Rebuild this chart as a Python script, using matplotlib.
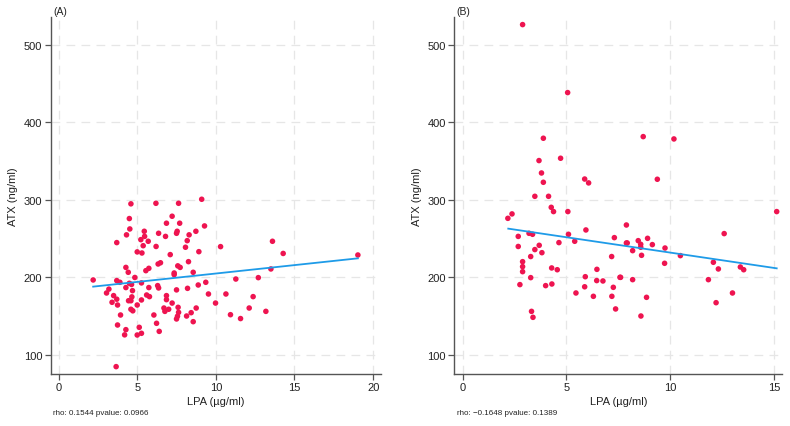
import matplotlib
matplotlib.use("Agg")
import matplotlib.pyplot as plt

plt.rcParams["font.family"] = ["Liberation Sans", "DejaVu Sans"]

# Panel A data
lpa_a = [2.2, 3.05, 3.2, 3.4, 3.5, 3.7, 3.7, 3.7, 3.75, 3.75, 3.66, 3.9, 3.94, 4.28, 4.32, 4.28, 4.28, 4.2,
         4.43, 4.5, 4.53, 4.6, 4.5, 4.45, 4.6, 4.64, 4.66, 4.6, 4.7, 4.72, 4.85, 5.0, 5.0, 5.13, 5.0, 5.27,
         5.23, 5.3, 5.38, 5.45, 5.47, 5.27, 5.27, 5.55, 5.74, 5.7, 5.6, 5.78, 5.74, 6.06, 6.19, 6.2, 6.23,
         6.3, 6.36, 6.36, 6.4, 6.33, 6.48, 6.7, 6.76, 6.8, 6.86, 6.86, 6.86, 7.0, 7.1, 7.22, 7.22, 7.35,
         7.35, 7.5, 7.54, 7.63, 7.7, 7.5, 7.5, 7.56, 7.6, 7.63, 7.58, 7.73, 8.07, 8.18, 8.26, 8.3, 8.2,
         8.14, 8.43, 8.56, 8.56, 8.73, 8.75, 8.88, 8.92, 9.1, 9.28, 9.36, 9.53, 9.98, 10.3, 10.64, 10.93,
         11.27, 11.57, 12.12, 12.37, 12.7, 13.18, 13.5, 13.6, 14.28, 19.03]
atx_a = [196.8, 180, 185, 168, 176.6, 245, 196, 172, 164.5, 138.7, 85, 193.8, 151.6, 213, 255, 187, 132.7, 126,
         206.7, 276, 262.6, 295, 192.5, 170, 159, 191, 175, 170, 183, 157, 200, 233, 164.5, 135.7, 125.8, 128,
         248.8, 231.6, 241, 259.6, 253, 193, 171, 208.8, 211.8, 246.7, 177.4, 175.3, 187, 151.6, 295.7, 240, 140.9,
         189.5, 186.5, 257, 130.5, 217.4, 219, 160.6, 156.3, 253, 270, 176.6, 171.4, 159, 229.5, 167, 279, 203.7,
         205.8, 257, 259.6, 295.7, 270, 184, 146.5, 150, 161.5, 155, 215, 213, 239, 247.5, 220.4, 255, 186,
         150.3, 154.6, 206.7, 143, 259.6, 160.6, 190.3, 233.3, 300.9, 266.5, 193.8, 178.7, 167, 239.8, 178.7, 152,
         198, 147, 160.6, 175.3, 199.8, 156.3, 211, 246.7, 231, 229]
fit_a_x = [2.2, 19.03]
fit_a_y = [188.2, 224.7]

# Panel B data
lpa_b = [2.89, 5.06, 2.18, 2.38, 2.68, 2.68, 2.76, 2.89, 2.89, 2.89, 3.2, 3.37, 3.28, 3.28, 3.32, 3.39, 3.48,
         3.48, 3.68, 3.69, 3.8, 3.89, 3.89, 3.82, 4.0, 4.14, 4.27, 4.38, 4.29, 4.3, 4.56, 4.64, 4.72, 5.07,
         5.1, 5.4, 5.46, 5.88, 6.07, 5.94, 5.91, 5.88, 6.3, 6.46, 6.47, 6.76, 7.19, 7.18, 7.26, 7.31, 7.37,
         7.58, 7.61, 7.89, 7.89, 7.93, 8.19, 8.19, 8.46, 8.58, 8.58, 8.62, 8.59, 8.7, 8.86, 8.91, 9.14, 9.38,
         9.75, 9.73, 10.18, 10.49, 11.84, 12.08, 12.21, 12.32, 12.6, 13.0, 13.38, 13.54, 15.13]
atx_b = [526.2, 438.5, 276.3, 282, 253, 240, 190.8, 220.4, 214, 207.5, 257, 255.7, 227, 199.8, 156.3, 148.6, 304.7,
         236, 350.8, 241.5, 334.8, 379.6, 322.8, 232, 189.5, 304.7, 290.5, 285, 212.3, 191.6, 210, 245, 353.8, 285,
         255.7, 246.7, 180, 327, 322, 261.3, 201, 188, 175.7, 196, 210.5, 195.5, 175.7, 227, 187.3, 251.4, 159.4,
         200.2, 200.2, 267.7, 244.5, 244.5, 234.6, 197.2, 247.5, 242.8, 239, 228.6, 150.3, 381.7, 174.4, 250.5, 242.4, 326.7,
         238, 218.3, 378.7, 228.2, 197.2, 219.6, 167.5, 211, 256.6, 180, 213.5, 210, 285]
fit_b_x = [2.2, 15.13]
fit_b_y = [263.0, 211.8]

panels = ["(A)", "(B)"]
notes = ["rho: 0.1544 pvalue: 0.0966", "rho: \u22120.1648 pvalue: 0.1389"]
xticks_list = [[0, 5, 10, 15, 20], [0, 5, 10, 15]]
yticks = [100, 200, 300, 400, 500]

dot_color = "#EE1450"
line_color = "#1E9BE8"
spine_color = "#555555"
grid_color = "#E6E6E6"

fig = plt.figure(figsize=(7.9, 4.27), dpi=100)
W, H = 790, 427
boxes = [(50.7, 381.0, (-0.5, 20.5)), (454.3, 782.3, (-0.4, 15.4))]
top_px, bot_px = 18, 375

data = [(lpa_a, atx_a, fit_a_x, fit_a_y), (lpa_b, atx_b, fit_b_x, fit_b_y)]

for i, ((l, r, xl), (xs, ys, fx, fy)) in enumerate(zip(boxes, data)):
    ax = fig.add_axes([l / W, 1 - bot_px / H, (r - l) / W, (bot_px - top_px) / H])
    ax.set_xlim(*xl)
    ax.set_ylim(75.5, 536)
    ax.set_xticks(xticks_list[i])
    ax.set_yticks(yticks)
    ax.grid(True, color=grid_color, linestyle=(0, (7, 5)), linewidth=0.9)
    ax.set_axisbelow(True)
    for s in ["top", "right"]:
        ax.spines[s].set_visible(False)
    for s in ["left", "bottom"]:
        ax.spines[s].set_color(spine_color)
        ax.spines[s].set_linewidth(1.0)
    ax.tick_params(axis="both", colors=spine_color, labelcolor="#222222", labelsize=8,
                   length=4, width=0.9, pad=2)
    ax.scatter(xs, ys, s=16, color=dot_color, edgecolors="none", zorder=3)
    ax.plot(fx, fy, color=line_color, linewidth=1.3, zorder=4)
    ax.set_xlabel("LPA (\u00b5g/ml)", fontsize=8, color="#222222", labelpad=3)
    ax.set_ylabel("ATX (ng/ml)", fontsize=8, color="#222222", labelpad=4)
    ax.text(l / W + 0.003, 1 - 12 / H, panels[i], transform=fig.transFigure,
            fontsize=7.5, color="#222222", va="center", ha="left")
    ax.text(l / W + 0.003, 1 - 414 / H, notes[i], transform=fig.transFigure,
            fontsize=5.8, color="#222222", va="center", ha="left")

fig.savefig("out.png", dpi=100)
